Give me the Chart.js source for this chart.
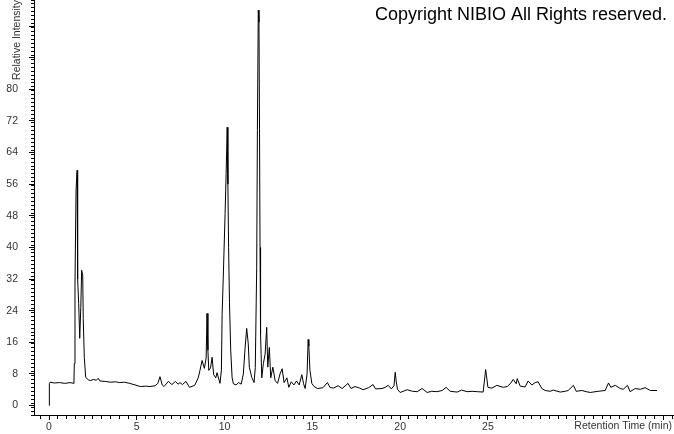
<!DOCTYPE html>
<html><head><meta charset="utf-8">
<script src="https://cdn.jsdelivr.net/npm/chart.js@4.4.0/dist/chart.umd.min.js"></script>
<style>html,body{margin:0;padding:0;background:#fff;overflow:hidden}#wrap{width:674px;height:434px;position:relative}</style>
</head><body><div id="wrap"><canvas id="c" width="674" height="434"></canvas></div>
<script>
// Retention time (min)
const retentionTimes = [0.00,0.01,0.03,0.06,0.3,0.6,0.9,1.2,1.42,1.44,1.48,1.54,1.60,1.62,1.64,1.69,1.75,1.81,1.86,1.92,1.95,2.01,2.09,2.24,2.35,2.53,2.7,2.8,2.9,3.2,3.5,3.8,4.0,4.3,4.6,4.9,5.2,5.5,5.75,6.04,6.2,6.32,6.45,6.55,6.8,7.0,7.2,7.35,7.46,7.6,7.8,8.0,8.3,8.5,8.6,8.72,8.85,8.95,9.0,9.05,9.1,9.2,9.29,9.38,9.5,9.57,9.74,9.82,9.86,9.93,10.03,10.09,10.15,10.19,10.23,10.28,10.35,10.43,10.5,10.65,10.8,10.95,11.07,11.17,11.26,11.35,11.41,11.55,11.68,11.75,11.83,11.87,11.92,11.96,11.99,12.02,12.05,12.12,12.21,12.31,12.4,12.46,12.55,12.63,12.75,12.88,13.02,13.16,13.28,13.39,13.55,13.66,13.8,13.95,14.1,14.25,14.4,14.5,14.59,14.7,14.76,14.8,14.86,14.97,15.1,15.3,15.6,15.86,16.0,16.2,16.47,16.7,17.03,17.2,17.43,17.7,17.89,18.2,18.46,18.6,18.97,19.15,19.32,19.5,19.65,19.72,19.78,19.85,20.0,20.4,20.7,20.97,21.25,21.54,21.8,22.1,22.4,22.62,22.85,23.25,23.5,23.82,24.1,24.4,24.73,24.82,24.87,24.92,25.0,25.23,25.51,25.87,26.1,26.27,26.44,26.61,26.67,26.84,27.12,27.29,27.5,27.69,27.86,28.07,28.26,28.55,28.72,29.12,29.4,29.57,29.87,30.03,30.35,30.6,30.83,31.28,31.68,31.87,32.0,32.25,32.54,32.71,32.95,33.1,33.39,33.68,33.96,34.25,34.63];
// Relative intensity
const intensities = [0.0,3.0,5.6,5.9,5.7,5.8,5.6,5.8,5.6,10.6,31,54.4,59.5,45,32,25.8,17,24.8,34.2,33,22,12.2,7.1,6.5,6.3,6.6,6.4,6.9,6.2,6.1,5.9,6.0,5.8,5.9,5.6,5.2,4.8,4.9,4.8,5.0,5.6,7.3,5.2,4.8,6.1,5.3,6.1,5.4,5.8,5.3,6.1,4.6,5.1,7.0,8.9,11.4,9.4,12,23.3,14,8.9,9.5,12.2,7.8,7.0,8.3,5.6,9,23,33,48.6,58.7,70.4,56,40,26,14,7,5.5,5.2,5.8,5.4,8,14.7,19.5,15.6,9.7,7.1,5.8,9.6,35,69.6,100,97,70,40,18,7,10.6,13,19.8,9.7,14.7,7,9.7,6.3,5.6,8.0,9.3,5.8,7.0,4.6,6.0,5.2,6.2,5.2,7.8,5.5,4.3,8,16.7,15,9,5.6,4.8,4.3,4.5,5.8,4.6,4.4,5.0,4.3,5.6,4.3,4.8,4.4,4.0,4.5,5.3,4.2,4.3,4.6,5.1,4.2,5,8.4,6,4.1,3.3,4.0,3.6,3.5,4.3,3.3,3.6,3.5,3.8,4.6,3.6,3.4,3.9,3.5,3.6,3.5,3.4,7.0,9.1,7.5,4.6,4.4,5.1,4.6,4.8,5.5,6.6,5.5,6.8,4.9,4.7,6.2,5.2,5.8,6.0,4.3,3.8,3.6,3.9,3.4,3.6,3.8,5.1,3.6,3.8,3.5,3.3,3.6,3.8,5.7,4.6,5.1,4.3,4.1,5.1,3.5,4.3,4.1,4.5,3.8,3.8];
const xTickLabels = [0,5,10,15,20,25];
const yTickLabels = [0,8,16,24,32,40,48,56,64,72,80];
const xTitle = 'Retention Time (min)';
const yTitle = 'Relative Intensity';
const copyrightText = 'Copyright NIBIO All Rights reserved.';

const points = retentionTimes.map((t, i) => ({x: t, y: intensities[i]}));
const FONT = '"Liberation Sans", Arial, sans-serif';
const X_MIN = -0.855, X_MAX = 35.6, Y_MIN = -2.4, Y_MAX = 102.6;

function noPad(s) { s.paddingTop = 0; s.paddingBottom = 0; s.paddingLeft = 0; s.paddingRight = 0; }

const textPlugin = {
  id: 'texts',
  afterDraw(chart) {
    const ctx = chart.ctx;
    ctx.save();
    ctx.fillStyle = '#000';
    ctx.font = '18px ' + FONT;
    ctx.textAlign = 'right';
    ctx.textBaseline = 'alphabetic';
    ctx.fillText(copyrightText, 667, 20);
    ctx.font = '10.5px ' + FONT;
    ctx.fillStyle = '#333';
    ctx.textBaseline = 'middle';
    ctx.fillText(xTitle, 672, 426);
    ctx.restore();
  }
};

new Chart(document.getElementById('c'), {
  type: 'line',
  data: { datasets: [{ data: points, xAxisID: 'x', yAxisID: 'y', borderColor: '#000', borderWidth: 1, pointRadius: 0, tension: 0, fill: false }] },
  options: {
    responsive: false, animation: false, devicePixelRatio: 1,
    layout: { padding: 0 },
    plugins: { legend: { display: false }, tooltip: { enabled: false } },
    scales: {
      x: {
        type: 'linear', position: 'bottom', weight: 0, min: X_MIN, max: X_MAX,
        ticks: { display: false, stepSize: 0.5, autoSkip: false, includeBounds: false },
        grid: { drawOnChartArea: false, tickLength: 4, color: '#000' },
        border: { display: true, color: '#000', width: 1 },
        afterFit(s) { s.height = 0; noPad(s); }
      },
      x2: {
        type: 'linear', position: 'bottom', weight: 1, min: X_MIN, max: X_MAX,
        ticks: { stepSize: 5, autoSkip: false, includeBounds: false, padding: 1, color: '#333', font: { size: 10.5, family: FONT }, maxRotation: 0,
          callback: (v) => xTickLabels.includes(v) ? String(v) : '' },
        grid: { drawOnChartArea: false, tickLength: 5, color: '#000' },
        border: { display: false },
        afterFit(s) { s.height = 19; noPad(s); }
      },
      y: {
        type: 'linear', position: 'left', weight: 0, min: Y_MIN, max: Y_MAX,
        ticks: { display: false, stepSize: 1, autoSkip: false, includeBounds: false },
        grid: { drawOnChartArea: false, tickLength: 3, color: '#000' },
        border: { display: true, color: '#000', width: 1 },
        afterFit(s) { s.width = 0; noPad(s); }
      },
      y2: {
        type: 'linear', position: 'left', weight: 1, min: Y_MIN, max: Y_MAX,
        ticks: { stepSize: 8, autoSkip: false, includeBounds: false, padding: 11, color: '#333', font: { size: 10.5, family: FONT },
          callback: (v) => yTickLabels.includes(v) ? String(v) : '' },
        grid: { drawOnChartArea: false, tickLength: 5, color: '#000' },
        border: { display: false },
        title: { display: true, text: yTitle, align: 'end', color: '#333', font: { size: 10.5, family: FONT }, padding: { top: 11, bottom: 0 } },
        afterFit(s) { s.width = 34; noPad(s); }
      }
    }
  },
  plugins: [textPlugin]
});
</script></body></html>
